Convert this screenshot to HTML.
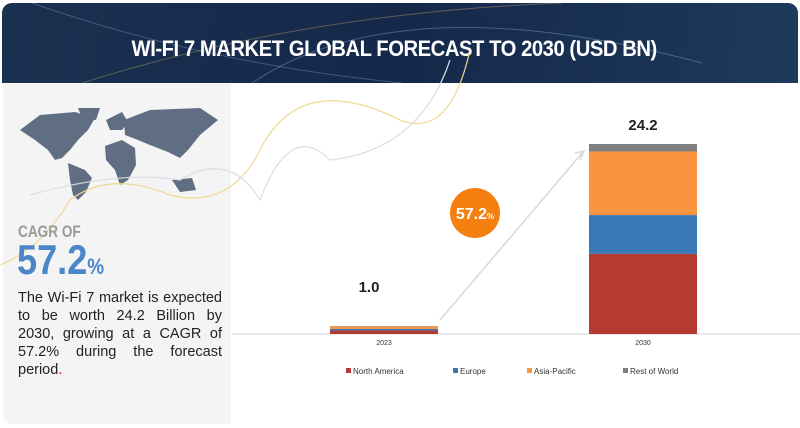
<!DOCTYPE html>
<html><head><meta charset="utf-8"><style>
body{margin:0;width:800px;height:428px;background:#fff;position:relative;overflow:hidden;font-family:"Liberation Sans",sans-serif}
#hdr{position:absolute;left:2px;top:3px;width:796px;height:80px;border-radius:10px 10px 0 0;background:linear-gradient(100deg,#1a3150,#15284a 50%,#1d3a5c);overflow:hidden}
#hdr .t{position:absolute;left:-10px;right:0;top:33px;text-align:center;color:#fff;font-weight:bold;font-size:22px;letter-spacing:-0.5px;transform:scaleX(0.92);transform-origin:393px 0}
#left{position:absolute;left:3px;top:84px;width:228px;height:340px;background:#f4f4f4;border-radius:0 0 0 10px}
#cagr{position:absolute;left:18px;top:222px;color:#9a9a9a;font-weight:bold;font-size:17px;transform:scaleX(0.8);transform-origin:0 0}
#big{position:absolute;left:17px;top:236px;color:#4a86c8;font-weight:bold;font-size:42px;transform:scaleX(0.86);transform-origin:0 0}
#big span{font-size:22px}
#para{position:absolute;left:18px;top:289px;width:204px;font-size:14.5px;line-height:18px;text-align:justify;color:#222}
</style></head><body>
<div id="hdr">
<svg width="796" height="80" style="position:absolute;left:0;top:0"><path d="M30 0 Q200 60 400 80" stroke="#6a88a8" stroke-width="1" fill="none" opacity=".5"/><path d="M250 80 Q400 -20 700 60" stroke="#7a98b8" stroke-width="1" fill="none" opacity=".5"/><path d="M80 80 Q300 10 560 0" stroke="#c8a860" stroke-width="1" fill="none" opacity=".4"/></svg>
<div class="t">WI-FI 7 MARKET GLOBAL FORECAST TO 2030 (USD BN)</div></div>
<div id="left"></div>
<svg style="position:absolute;left:0;top:0" width="800" height="428">
<g fill="#5f6e82">
<path d="M20 130 L40 115 L75 112 L95 118 L88 130 L78 140 L70 150 L62 158 L55 160 L48 150 L35 140 Z"/>
<path d="M78 108 L100 108 L96 120 L82 118 Z"/>
<path d="M68 163 L85 170 L92 178 L86 192 L78 200 L73 195 L70 180 Z"/>
<path d="M106 120 L122 112 L128 122 L122 130 L110 130 Z"/>
<path d="M105 146 L122 140 L135 148 L136 165 L128 180 L120 185 L115 170 L106 160 Z"/>
<path d="M124 120 L150 110 L200 108 L218 120 L200 135 L188 150 L180 158 L168 152 L150 145 L138 140 L125 135 Z"/>
<path d="M172 180 L192 178 L196 190 L180 192 Z"/>
</g>
<path d="M0 265 Q40 250 70 200 Q110 170 170 195 Q230 210 260 150 Q300 70 400 120 Q450 140 470 50" stroke="#f0d890" fill="none" stroke-width="1.2"/>
<path d="M30 195 Q120 170 180 180 Q230 150 260 200 Q290 120 330 160 Q420 150 450 60" stroke="#dcdce4" fill="none" stroke-width="1.2"/>
</svg>
<div id="cagr">CAGR OF</div>
<div id="big">57.2<span>%</span></div>
<div id="para">The Wi-Fi 7 market is expected to be worth 24.2 Billion by 2030, growing at a CAGR of 57.2% during the forecast period<span style="color:#c00">.</span></div>
<svg id="chart" style="position:absolute;left:0;top:0" width="800" height="428"></svg>
<script>
const categories=["2023","2030"];
const series=["North America","Europe","Asia-Pacific","Rest of World"];
const colors=["#b53a32","#3a78b6","#f9953f","#7f7f7f"];
const northAmerica=[0.45,10.2];
const europe=[0.2,4.95];
const asiaPacific=[0.3,8.1];
const restOfWorld=[0.05,0.95];
const totals=["1.0","24.2"];
const NS="http://www.w3.org/2000/svg";
const svg=document.getElementById('chart');
const base=334, scale=190/24.2;
const xs=c=>[330,589][c]; const bw=108;
const y=v=>base-v*scale;
function mk(t,a){const e=document.createElementNS(NS,t);for(const k in a)e.setAttribute(k,a[k]);svg.appendChild(e);return e;}
const ax=mk('line',{x1:232,x2:800,y1:base,y2:base,stroke:'#d0d0d0'});


const arr=mk('path',{d:'M440 320 L583 152 M575 153 L584 151 L580 160',stroke:'#d8d8d8','stroke-width':1.5,fill:'none'});


const all=[northAmerica,europe,asiaPacific,restOfWorld];
categories.forEach((c,i)=>{
 let acc=0;
 all.forEach((s,j)=>{const r=mk('rect',{x:xs(i),y:y(acc+s[i]),width:bw,height:s[i]*scale,fill:colors[j]});
 
 
 acc+=s[i];});
 const ty=i===0?y(acc)-34:y(acc)-14;
 const t=mk('text',{x:xs(i)+bw/2-15+i*15,y:ty,'text-anchor':'middle','font-size':15,'font-weight':'bold',fill:'#222'});t.textContent=totals[i];
 
 
 const l=mk('text',{x:xs(i)+bw/2,y:345,'text-anchor':'middle','font-size':7,fill:'#333'});l.textContent=c;
 
 
});
const circ=mk('circle',{cx:475,cy:213,r:25,fill:'#f57f0f'});


const ct=mk('text',{x:475,y:219,'text-anchor':'middle','font-size':16,'font-weight':'bold',fill:'#fff'});ct.innerHTML='57.2<tspan font-size="8">%</tspan>';


const lx=[346,453,527,623];
series.forEach((s,j)=>{
 const r=mk('rect',{x:lx[j],y:368,width:5,height:5,fill:colors[j]});
 
 
 const t=mk('text',{x:lx[j]+7,y:374,'font-size':8,fill:'#333'});t.textContent=s;
 
 
});
</script>
</body></html>
